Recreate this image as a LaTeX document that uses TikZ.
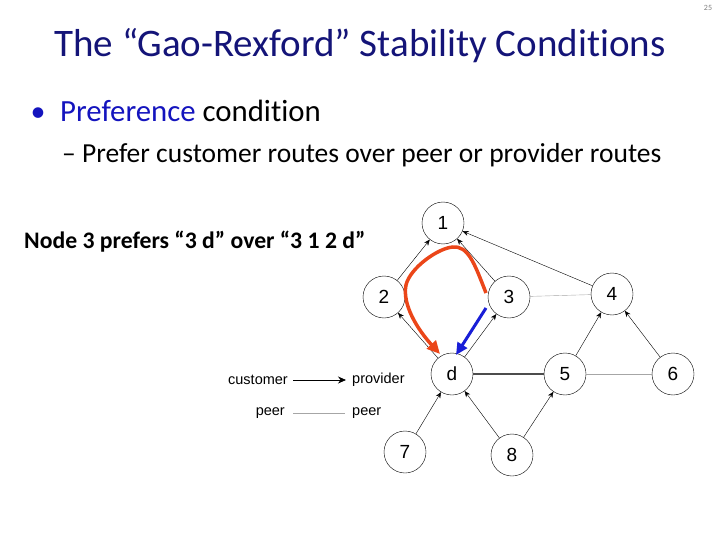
\documentclass[tikz,border=0pt]{standalone}
\usepackage{fontspec}
\setmainfont{Carlito}[Ligatures=NoCommon]
\newfontfamily\graphfont{Liberation Sans}
\usetikzlibrary{arrows,arrows.meta,shapes}
\definecolor{titleblue}{RGB}{20,20,120}
\definecolor{prefblue}{RGB}{20,20,190}
\definecolor{pathred}{RGB}{235,70,25}
\definecolor{pathblue}{RGB}{25,30,215}

\begin{document}
\begin{tikzpicture}[x=1pt,y=-1pt,
	as/.style={circle,draw,thin,minimum size=42pt,inner sep=0pt,font=\graphfont\fontsize{19}{19}\selectfont},
	cp/.style={thin,-{Stealth[length=6pt,width=5pt]}},
	pp/.style={thin,gray!70},
	legend/.style={inner sep=0pt,font=\graphfont\fontsize{14.5}{14.5}\selectfont}]
			\useasboundingbox (0,0) rectangle (720,540);
			% slide text
			\node[text=gray,font=\fontsize{8}{8}\selectfont] (pagenum) at (708,8) {25};
			\node[text=titleblue,font=\fontsize{39}{44}\selectfont] (title) at (360,46) {The “Gao-Rexford” Stability Conditions};
			\node[text=prefblue,anchor=base,font=\fontsize{30}{34}\selectfont] (bul) at (38,122) {•};
			\node[anchor=base west,inner sep=0pt,font=\fontsize{30.8}{34}\selectfont] (cond) at (60,122) {\textcolor{prefblue}{Preference} condition};
			\node[anchor=base west,inner sep=0pt,font=\fontsize{27.5}{32}\selectfont] (sub) at (62,163) {– Prefer customer routes over peer or provider routes};
			\node[anchor=base west,inner sep=0pt,font=\bfseries\fontsize{23.7}{27}\selectfont] (note) at (24,248) {Node 3 prefers “3 d” over “3 1 2 d”};
			% AS graph
			\node[as] (n1) at (443,223) {1};
			\node[as] (n2) at (384,297) {2};
			\node[as] (n3) at (509,297) {3};
			\node[as] (n4) at (612,294) {4};
			\node[as] (nd) at (452,374) {d};
			\node[as] (n5) at (565,374) {5};
			\node[as] (n6) at (673,374) {6};
			\node[as] (n7) at (405,452) {7};
			\node[as] (n8) at (512,455) {8};
			\draw[cp] (n2) -- (n1);
			\draw[cp] (n3) -- (n1);
			\draw[cp] (n4) -- (n1);
			\draw[cp] (nd) -- (n2);
			\draw[cp] (nd) -- (n3);
			\draw[cp] (n5) -- (n4);
			\draw[cp] (n6) -- (n4);
			\draw[cp] (n7) -- (nd);
			\draw[cp] (n8) -- (nd);
			\draw[cp] (n8) -- (n5);
			\draw[pp] (n3) -- (n4);
			\draw[pp] (n5) -- (n6);
			\draw[gray!60!black,line width=1.3pt] (nd) -- (n5);
			% legend
			\node[legend,anchor=east] (cust) at (288,380) {customer};
			\node[legend,anchor=west] (prov) at (352,380) {provider};
			\node[legend,anchor=east] (peerl) at (285,413) {peer};
			\node[legend,anchor=west] (peerr) at (352,413) {peer};
			\draw[thick,-{Stealth[length=8pt,width=7pt]}] ([xshift=5pt]cust.east) -- ([xshift=-6pt]prov.west);
			\draw[pp] ([xshift=8pt]peerl.east) -- ([xshift=-7pt]peerr.west);
			% chosen paths
			\coordinate (redtip) at (440,354);
			\coordinate (bluetip) at (456,355);
			\draw[pathred,line width=3.5pt,-{Triangle[length=13pt,width=12pt]}] (486,293) .. controls (474,262) and (468,246) .. (453,247)
				.. controls (438,248) and (410,268) .. (406,285)
				.. controls (402,305) and (418,330) .. (redtip);
			\draw[pathblue,line width=3pt,-{Triangle[length=12pt,width=11pt]}] (486,308) -- (bluetip);
		\end{tikzpicture}
\end{document}
